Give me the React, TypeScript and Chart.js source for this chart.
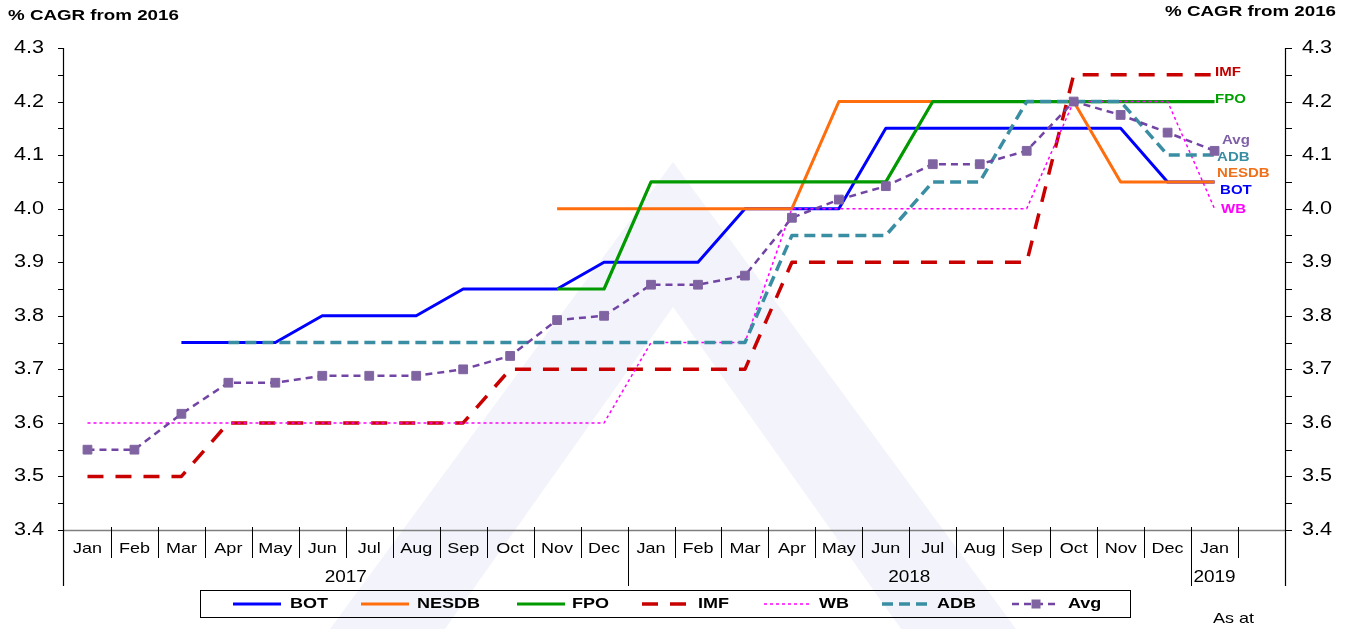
import React, { useEffect, useRef } from 'react';
import { Chart, registerables } from 'chart.js';

Chart.register(...registerables);

// ---------- DATA ----------
const months = ['Jan', 'Feb', 'Mar', 'Apr', 'May', 'Jun', 'Jul', 'Aug', 'Sep', 'Oct', 'Nov', 'Dec',
  'Jan', 'Feb', 'Mar', 'Apr', 'May', 'Jun', 'Jul', 'Aug', 'Sep', 'Oct', 'Nov', 'Dec', 'Jan', ''];
const yearLabels = ['2017', '2018', '2019'];
const yearFirstIdx = [0, 12, 24];
const yearLastIdx = [11, 23, 24];
const yTicks = [3.4, 3.5, 3.6, 3.7, 3.8, 3.9, 4.0, 4.1, 4.2, 4.3];

const botValues = [null, null, 3.75, 3.75, 3.75, 3.8, 3.8, 3.8, 3.85, 3.85, 3.85, 3.9,
  3.9, 3.9, 4.0, 4.0, 4.0, 4.15, 4.15, 4.15, 4.15, 4.15, 4.15, 4.05, 4.05, null];
const nesdbValues = [null, null, null, null, null, null, null, null, null, null, 4.0, 4.0,
  4.0, 4.0, 4.0, 4.0, 4.2, 4.2, 4.2, 4.2, 4.2, 4.2, 4.05, 4.05, 4.05, null];
const fpoValues = [null, null, null, null, null, null, null, null, null, null, 3.85, 3.85,
  4.05, 4.05, 4.05, 4.05, 4.05, 4.05, 4.2, 4.2, 4.2, 4.2, 4.2, 4.2, 4.2, null];
const imfValues = [3.5, 3.5, 3.5, 3.6, 3.6, 3.6, 3.6, 3.6, 3.6, 3.7, 3.7, 3.7,
  3.7, 3.7, 3.7, 3.9, 3.9, 3.9, 3.9, 3.9, 3.9, 4.25, 4.25, 4.25, 4.25, null];
const wbValues = [3.6, 3.6, 3.6, 3.6, 3.6, 3.6, 3.6, 3.6, 3.6, 3.6, 3.6, 3.6,
  3.75, 3.75, 3.75, 4.0, 4.0, 4.0, 4.0, 4.0, 4.0, 4.2, 4.2, 4.2, 4.0, null];
const adbValues = [null, null, null, 3.75, 3.75, 3.75, 3.75, 3.75, 3.75, 3.75, 3.75, 3.75,
  3.75, 3.75, 3.75, 3.95, 3.95, 3.95, 4.05, 4.05, 4.2, 4.2, 4.2, 4.1, 4.1, null];
const avgValues = [3.55, 3.55, 3.617, 3.675, 3.675, 3.688, 3.688, 3.688, 3.7, 3.725, 3.792, 3.8,
  3.858, 3.858, 3.875, 3.983, 4.017, 4.042, 4.083, 4.083, 4.108, 4.2, 4.175, 4.142, 4.108, null];

// ---------- STYLE ----------
const FONT = '"Liberation Sans", Arial, sans-serif';
const SX = 1.2;

function sText(ctx: CanvasRenderingContext2D, text: string, x: number, y: number, font: string,
  color: string, align: 'left' | 'center' | 'right', sx = SX) {
  ctx.save();
  ctx.font = font;
  ctx.fillStyle = color;
  ctx.textBaseline = 'middle';
  ctx.textAlign = 'left';
  const w = ctx.measureText(text).width * sx;
  const left = align === 'center' ? x - w / 2 : align === 'right' ? x - w : x;
  ctx.translate(left, y);
  ctx.scale(sx, 1);
  ctx.fillText(text, 0, 0);
  ctx.restore();
}

const watermarkPlugin = {
  id: 'watermark',
  beforeDraw(chart: any) {
    const ctx = chart.ctx as CanvasRenderingContext2D;
    ctx.save();
    ctx.fillStyle = '#ffffff';
    ctx.fillRect(0, 0, chart.width, chart.height);
    ctx.beginPath();
    ctx.moveTo(673, 162);
    ctx.lineTo(1016, 629);
    ctx.lineTo(330, 629);
    ctx.closePath();
    ctx.moveTo(673, 307);
    ctx.lineTo(445, 629);
    ctx.lineTo(901, 629);
    ctx.closePath();
    ctx.fillStyle = 'rgba(205,210,238,0.24)';
    ctx.fill('evenodd');
    ctx.restore();
  },
};

const axesPlugin = {
  id: 'customAxes',
  beforeDatasetsDraw(chart: any) {
    const ctx = chart.ctx as CanvasRenderingContext2D;
    const x = chart.scales.x;
    const y = chart.scales.y;
    const { left, right, bottom } = chart.chartArea;
    const n = months.length;
    const w = (right - left) / n;
    const axisBottom = 586;
    ctx.save();
    ctx.strokeStyle = '#7f7f7f';
    ctx.lineWidth = 1.5;
    ctx.beginPath();
    ctx.moveTo(left, bottom + 0.5);
    ctx.lineTo(right, bottom + 0.5);
    ctx.stroke();
    ctx.strokeStyle = '#000';
    ctx.lineWidth = 1;
    for (let i = 1; i < n; i++) {
      const px = Math.round(x.getPixelForValue(i) - w / 2) + 0.5;
      const isYear = yearFirstIdx.includes(i);
      ctx.beginPath();
      ctx.moveTo(px, bottom - 3);
      ctx.lineTo(px, isYear ? axisBottom : 558);
      ctx.stroke();
    }
    const yTop = y.getPixelForValue(yTicks[yTicks.length - 1]);
    ctx.strokeStyle = '#000';
    ctx.lineWidth = 1.2;
    ctx.beginPath();
    ctx.moveTo(left - 0.5, yTop);
    ctx.lineTo(left - 0.5, axisBottom);
    ctx.moveTo(right + 0.5, yTop);
    ctx.lineTo(right + 0.5, axisBottom);
    ctx.stroke();
    ctx.lineWidth = 1;
    for (let i = 0; i < yTicks.length; i++) {
      const vals = [yTicks[i]];
      if (i < yTicks.length - 1) vals.push((yTicks[i] + yTicks[i + 1]) / 2);
      for (const v of vals) {
        const py = Math.round(y.getPixelForValue(v)) + 0.5;
        ctx.beginPath();
        ctx.moveTo(left - 6, py);
        ctx.lineTo(left, py);
        ctx.moveTo(right, py);
        ctx.lineTo(right + 7, py);
        ctx.stroke();
      }
    }
    ctx.restore();
  },
  afterDraw(chart: any) {
    const ctx = chart.ctx as CanvasRenderingContext2D;
    const x = chart.scales.x;
    const y = chart.scales.y;
    const { left, right } = chart.chartArea;
    const w = (right - left) / months.length;
    sText(ctx, '% CAGR from 2016', 8, 16, `bold 15px ${FONT}`, '#000', 'left', 1.25);
    sText(ctx, '% CAGR from 2016', 1336, 12, `bold 15px ${FONT}`, '#000', 'right', 1.25);
    for (const v of yTicks) {
      const py = y.getPixelForValue(v);
      sText(ctx, v.toFixed(1), 44, py, `18px ${FONT}`, '#000', 'right');
      sText(ctx, v.toFixed(1), 1302, py, `18px ${FONT}`, '#000', 'left');
    }
    months.forEach((m, i) => {
      if (!m) return;
      sText(ctx, m, x.getPixelForValue(i), 549, `15px ${FONT}`, '#000', 'center');
    });
    yearLabels.forEach((yl, k) => {
      const a = x.getPixelForValue(yearFirstIdx[k]) - w / 2;
      const b = x.getPixelForValue(yearLastIdx[k]) + w / 2;
      sText(ctx, yl, (a + b) / 2, 577, `16.5px ${FONT}`, '#000', 'center', 1.15);
    });
    sText(ctx, 'As at', 1213, 619, `15px ${FONT}`, '#000', 'left');
  },
};

const endLabelPlugin = {
  id: 'endLabels',
  afterDatasetsDraw(chart: any, _args: any, opts: any) {
    const ctx = chart.ctx as CanvasRenderingContext2D;
    chart.data.datasets.forEach((ds: any, di: number) => {
      const meta = chart.getDatasetMeta(di);
      let last = -1;
      ds.data.forEach((v: any, i: number) => { if (v != null) last = i; });
      if (last < 0) return;
      const pt = meta.data[last];
      const off = opts.offsets[ds.label] || [4, 0];
      sText(ctx, ds.label, pt.x + off[0], pt.y + off[1], `bold 12.5px ${FONT}`, ds.labelColor, 'left');
    });
  },
};

const legendPlugin = {
  id: 'customLegend',
  afterDraw(chart: any, _args: any, opts: any) {
    const ctx = chart.ctx as CanvasRenderingContext2D;
    ctx.save();
    ctx.strokeStyle = '#000';
    ctx.lineWidth = 1;
    ctx.strokeRect(200.5, 590.5, 930, 27);
    ctx.restore();
    const ly = 604;
    chart.data.datasets.forEach((ds: any, di: number) => {
      const [lx, tx] = opts.positions[di];
      ctx.save();
      ctx.strokeStyle = ds.borderColor;
      ctx.lineWidth = ds.borderWidth;
      ctx.setLineDash(ds.borderDash || []);
      ctx.beginPath();
      ctx.moveTo(lx, ly);
      ctx.lineTo(lx + 48, ly);
      ctx.stroke();
      if (ds.pointRadius > 0) {
        ctx.setLineDash([]);
        ctx.fillStyle = ds.pointBackgroundColor;
        ctx.fillRect(lx + 24 - 4.5, ly - 4.5, 9, 9);
      }
      ctx.restore();
      sText(ctx, ds.label, tx, ly, `bold 15px ${FONT}`, '#000', 'left');
    });
  },
};

export default function App() {
  const ref = useRef<HTMLCanvasElement | null>(null);
  useEffect(() => {
    if (!ref.current) return;
    const mk = (label: string, data: any[], color: string, width: number, dash: number[], order: number, labelColor: string, extra: any = {}) => ({
      label, data, borderColor: color, backgroundColor: color, borderWidth: width, borderDash: dash,
      pointRadius: 0, pointHoverRadius: 0, fill: false, tension: 0, order, labelColor,
      borderCapStyle: 'butt', borderJoinStyle: 'round', ...extra,
    });
    const chart = new Chart(ref.current, {
      type: 'line',
      data: {
        labels: months,
        datasets: [
          mk('BOT', botValues, '#0000ff', 3, [], 7, '#0000ff'),
          mk('NESDB', nesdbValues, '#ff6d0d', 3, [], 6, '#f0701a'),
          mk('FPO', fpoValues, '#009a00', 3.2, [], 5, '#00a000'),
          mk('IMF', imfValues, '#c80000', 3.5, [16, 12], 4, '#c00000'),
          mk('WB', wbValues, '#ff00ff', 1.5, [3, 3], 3, '#ff00ff'),
          mk('ADB', adbValues, '#3a8ea3', 3.5, [11, 6], 2, '#3a8ea3'),
          mk('Avg', avgValues, '#7244a4', 2.5, [7, 5], 1, '#7f5fa8', {
            pointRadius: 6.2, pointStyle: 'rect', pointBackgroundColor: '#8064a2',
            pointBorderColor: '#8064a2', pointBorderWidth: 1,
          }),
        ] as any,
      },
      options: {
        responsive: false,
        animation: false,
        events: [],
        layout: { padding: { left: 64, right: 69, top: 48, bottom: 99 } },
        scales: {
          x: { type: 'category', display: false, offset: true },
          y: { type: 'linear', display: false, min: 3.4, max: 4.3 },
        },
        plugins: {
          legend: { display: false },
          tooltip: { enabled: false },
          endLabels: {
            offsets: {
              IMF: [0.5, -2], FPO: [0.5, -2], Avg: [7.5, -10.5], ADB: [2.5, 2],
              NESDB: [2.5, -8], BOT: [5.5, 9], WB: [6.5, 0.5],
            },
          },
          customLegend: {
            positions: [[233, 290], [361, 417], [517, 572], [642, 698], [764, 819], [882, 937], [1012, 1068]],
          },
        } as any,
      },
      plugins: [watermarkPlugin, axesPlugin, endLabelPlugin, legendPlugin],
    });
    return () => chart.destroy();
  }, []);
  return (
    <div style={{ position: 'absolute', left: 0, top: 0, width: 1354, height: 629, background: '#fff' }}>
      <canvas ref={ref} width={1354} height={629} style={{ display: 'block' }} />
    </div>
  );
}
